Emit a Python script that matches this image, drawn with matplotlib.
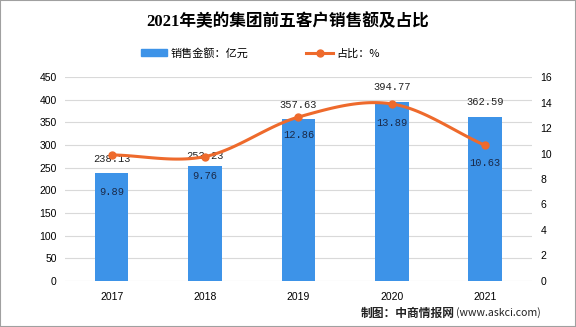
import numpy as np
import matplotlib
matplotlib.use("Agg")
import matplotlib.pyplot as plt
from matplotlib.patches import Rectangle, Patch
from matplotlib.lines import Line2D

plt.rcParams['font.family'] = ['Noto Sans CJK SC', 'DejaVu Sans']
plt.rcParams['axes.unicode_minus'] = False

years = ['2017', '2018', '2019', '2020', '2021']
sales = [238.13, 253.23, 357.63, 394.77, 362.59]   # 亿元
share = [9.89, 9.76, 12.86, 13.89, 10.63]          # %

bar_color = '#3d93e8'
line_color = '#ee6a2c'


def smooth(x, y, n=30):
    # catmull-rom style smoothing like the excel "smoothed line"
    x = np.asarray(x, float)
    y = np.asarray(y, float)
    px = np.concatenate([[2 * x[0] - x[1]], x, [2 * x[-1] - x[-2]]])
    py = np.concatenate([[2 * y[0] - y[1]], y, [2 * y[-1] - y[-2]]])
    xs, ys = [], []
    for i in range(1, len(px) - 2):
        t = np.linspace(0, 1, n)
        for arr, out in ((px, xs), (py, ys)):
            p0, p1, p2, p3 = arr[i - 1], arr[i], arr[i + 1], arr[i + 2]
            out.extend(0.5 * ((2 * p1) + (-p0 + p2) * t
                              + (2 * p0 - 5 * p1 + 4 * p2 - p3) * t ** 2
                              + (-p0 + 3 * p1 - 3 * p2 + p3) * t ** 3))
    return np.array(xs), np.array(ys)


fig = plt.figure(figsize=(5.76, 3.27), dpi=100)
fig.patches.append(Rectangle((0, 0), 1, 1, transform=fig.transFigure,
                             fill=False, edgecolor='#a0a0a0', lw=1.5))
ax = fig.add_axes([0.1128, 0.1407, 0.8108, 0.6238])
ax2 = ax.twinx()

x = np.arange(len(years))
bars = ax.bar(x, sales, width=0.36, color=bar_color, zorder=2)
ax.set_xlim(-0.5, len(years) - 0.5)
ax.set_ylim(0, 450)
ax.set_yticks(np.arange(0, 451, 50))
ax.grid(axis='y', color='#d9d9d9', lw=0.8, zorder=0)
ax.set_axisbelow(True)
ax.set_xticks(x)
ax.set_xticklabels(years)
for s in ax.spines.values():
    s.set_visible(False)
for s in ax2.spines.values():
    s.set_visible(False)
ax.tick_params(length=0, labelsize=7.5, pad=6)
ax.tick_params(axis='x', pad=8)
for t in ax.get_xticklabels() + ax.get_yticklabels():
    t.set_family(['Liberation Sans'])

sx, sy = smooth(x, share)
ax2.plot(sx, sy, color=line_color, lw=2.2, zorder=3)
ax2.plot(x, share, 'o', color=line_color, ms=5, zorder=4)
ax2.set_ylim(0, 16)
ax2.set_yticks(np.arange(0, 17, 2))
ax2.tick_params(length=0, labelsize=7.5, pad=6)
for t in ax2.get_yticklabels():
    t.set_family(['Liberation Sans'])

sales_off = [14, 10, 14, 15, 15]
share_off = [37, 19, 18, 19, 18]
for i in range(len(years)):
    ax.annotate(f'{sales[i]:.2f}', (x[i], sales[i]), xytext=(0, sales_off[i] * 0.72),
                textcoords='offset points', ha='center', va='center',
                fontsize=7.5, family=['Liberation Mono'], color='#222222')
    ax2.annotate(f'{share[i]:.2f}', (x[i], share[i]), xytext=(0, -share_off[i] * 0.72),
                 textcoords='offset points', ha='center', va='center',
                 fontsize=7.5, family=['Liberation Mono'], color='#1a2a4a', zorder=5)

fig.text(0.5, 1 - 21.5 / 327, '2021年美的集团前五客户销售额及占比', ha='center', va='center',
         fontsize=12, fontweight='bold', family=['Liberation Serif', 'Noto Sans CJK SC'])

# legend
handles = [Patch(color=bar_color), Line2D([], [], color=line_color, lw=2.2, marker='o', ms=5)]
fig.legend(handles, ['销售金额：亿元', '占比：%'], loc='center', ncol=2,
           bbox_to_anchor=(0.452, 1 - 53 / 327), frameon=False, fontsize=8,
           handlelength=2.4, handletextpad=0.3, columnspacing=5.2)

# source note
fig.text(541 / 576, 1 - 313 / 327, '(www.askci.com)', ha='right', va='center',
         fontsize=7.6, color='#222222')
fig.text(455 / 576, 1 - 313 / 327, '制图：中商情报网', ha='right', va='center',
         fontsize=8.5, fontweight='bold', color='#222222')

fig.savefig('out.png', dpi=100)
